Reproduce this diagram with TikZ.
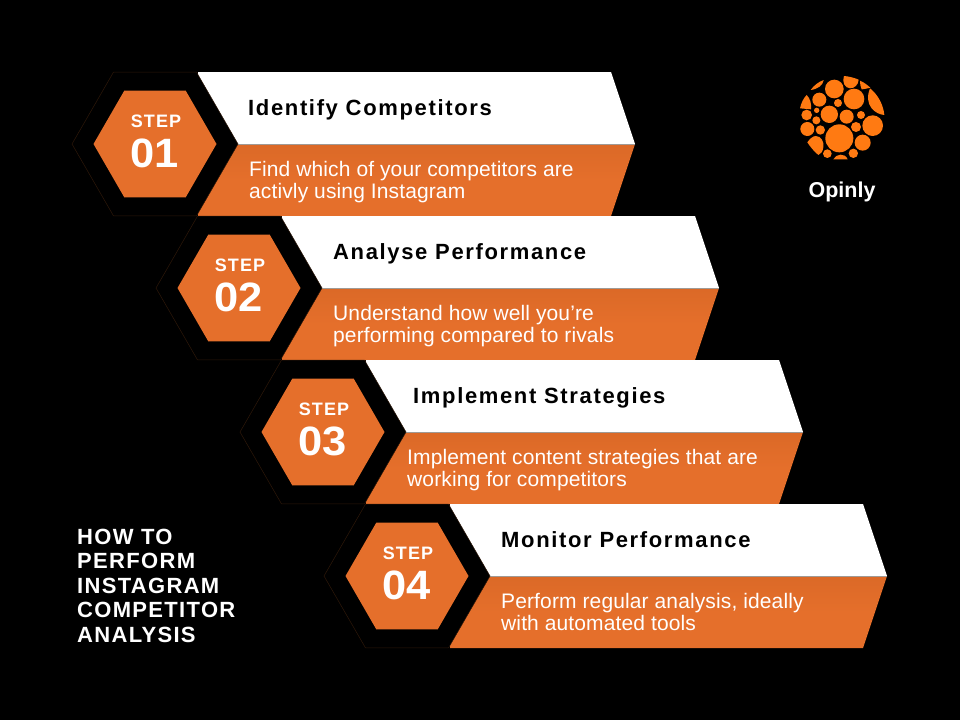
\documentclass[tikz,border=0pt]{standalone}
\usepackage{fontspec}
\usetikzlibrary{shapes.geometric}
\setmainfont{Liberation Sans}
\newfontfamily\titlefont[LetterSpace=6,BoldFont={Liberation Sans Bold}]{Liberation Sans}
\newfontfamily\headfont[LetterSpace=7.5,BoldFont={Liberation Sans Bold}]{Liberation Sans}
\newfontfamily\bodyfont[LetterSpace=0.6]{Liberation Sans}
\newfontfamily\stepfont[LetterSpace=6,BoldFont={Liberation Sans Bold}]{Liberation Sans}
\newfontfamily\numfont[FakeStretch=1.06,BoldFont={Liberation Sans Bold},BoldFeatures={FakeStretch=1.06}]{Liberation Sans}
\definecolor{bandorange}{HTML}{E56F2B}
\definecolor{banddark}{HTML}{DB6927}
\definecolor{bandline}{HTML}{A09A95}
\definecolor{logoorange}{HTML}{FF7A12}
\definecolor{hexedge}{HTML}{2E1809}

\begin{document}
\begin{tikzpicture}[x=1pt,y=-1pt]
    \tikzstyle{hexouter}=[regular polygon,regular polygon sides=6,draw=hexedge,line width=0.5pt,fill=black,minimum size=166pt,inner sep=0pt]
    \tikzstyle{hexinner}=[regular polygon,regular polygon sides=6,fill=bandorange,minimum size=123pt,inner sep=0pt]
    \tikzstyle{steplabel}=[text=white,inner sep=0pt,font=\stepfont\bfseries\fontsize{18}{18}\selectfont]
    \tikzstyle{stepnum}=[text=white,inner sep=0pt,font=\numfont\bfseries\fontsize{41}{41}\selectfont]
    \tikzstyle{headtext}=[text=black,anchor=base west,inner sep=0pt,font=\headfont\bfseries\fontsize{22}{22}\selectfont]
    \tikzstyle{bodytext}=[text=white,anchor=north west,align=left,inner sep=0pt,font=\bodyfont\fontsize{21}{22}\selectfont]

    \fill[black] (0,0) rectangle (960,720);
    \useasboundingbox (0,0) rectangle (960,720);

    \foreach \num/\x/\y/\hx/\bx/\head/\desc in {%
        01/155/144/248/249/Identify Competitors/{Find which of your competitors are\\activly using Instagram},
        02/239/288/333/333/Analyse Performance/{Understand how well you’re\\performing compared to rivals},
        03/323/432/413/407/Implement Strategies/{Implement content strategies that are\\working for competitors},
        04/407/576/501/501/Monitor Performance/{Perform regular analysis, ideally\\with automated tools}} {
        \fill[white] (\x+43,\y-72) -- (\x+456,\y-72) -- (\x+480,\y) -- (\x+43,\y) -- cycle;
        \shade[top color=banddark,bottom color=bandorange,middle color=bandorange] (\x+43,\y) -- (\x+480,\y) -- (\x+456,\y+72) -- (\x+43,\y+72) -- cycle;
        \draw[bandline,line width=0.7pt] (\x+43,\y) -- (\x+480,\y);
        \node[hexouter] (O-\num) at (\x,\y) {};
        \node[hexinner] (I-\num) at (\x,\y) {};
        \node[steplabel] (S-\num) at (\x+1,\y-23) {STEP};
        \node[stepnum] (N-\num) at (\x,\y+9) {\num};
        \node[headtext] (H-\num) at (\hx,\y-29) {\head};
        \node[bodytext] (B-\num) at (\bx,\y+16.7) {\desc};
    }

    \node[anchor=north west,align=left,text=white,inner sep=0pt,font=\titlefont\bfseries\fontsize{22}{24.4}\selectfont] (title) at (77,529) {HOW TO\\PERFORM\\INSTAGRAM\\COMPETITOR\\ANALYSIS};

    % logo, traced at 3x
    \begin{scope}[shift={(795,70)},x=0.3333pt,y=-0.3333pt,fill=logoorange]
        \foreach \cx/\cy/\r in {118/57/28, 73/89/21, 177/87/31, 129/99/12, 35/135/16, 65/121/8,
                103/133/26, 155/140/21, 198/135/12, 64/151/12, 233/167/31, 37/177/21, 76/180/14,
                183/171/15, 133/205/42, 203/218/24, 97/251/13, 175/250/14}
            \fill (\cx,\cy) circle [radius=\r];
        \fill (47,60) .. controls (57,46) and (70,36) .. (86,30) .. controls (84,45) and (70,57) .. cycle;
        \fill (147,18) .. controls (160,19) and (178,23) .. (191,29) .. controls (190,45) and (178,55) .. (165,55) .. controls (150,55) and (140,35) .. cycle;
        \fill (195,32) .. controls (207,37) and (217,45) .. (226,53) .. controls (215,56) and (204,58) .. (200,58) .. controls (197,50) and (194,40) .. cycle;
        \fill (35,75) .. controls (25,85) and (18,100) .. (15,115) -- (48,118) .. controls (50,100) and (45,85) .. cycle;
        \fill (225,55) .. controls (250,75) and (265,105) .. (268,135) .. controls (240,133) and (205,105) .. cycle;
        \fill (37,217) .. controls (45,205) and (55,198) .. (62,198) .. controls (78,198) and (88,215) .. (85,232) .. controls (83,245) and (78,252) .. (70,255) .. controls (58,245) and (45,230) .. cycle;
        \fill (115,268) .. controls (122,252) and (150,247) .. (158,268) -- cycle;
    \end{scope}
    \node[text=white,inner sep=0pt,font=\bfseries\fontsize{21.5}{22}\selectfont] (logotext) at (842,192) {Opinly};
\end{tikzpicture}
\end{document}
